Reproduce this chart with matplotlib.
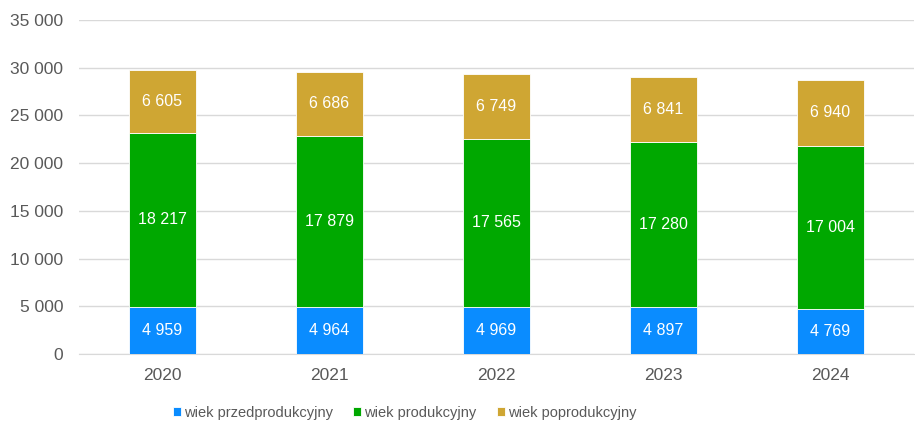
import matplotlib.pyplot as plt
import numpy as np

plt.rcParams['font.family'] = ['Liberation Sans', 'DejaVu Sans']

years = ['2020', '2021', '2022', '2023', '2024']
przed = [4959, 4964, 4969, 4897, 4769]
prod = [18217, 17879, 17565, 17280, 17004]
poprod = [6605, 6686, 6749, 6841, 6940]

series = [
    ('wiek przedprodukcyjny', przed, '#0A8CFF'),
    ('wiek produkcyjny', prod, '#00A800'),
    ('wiek poprodukcyjny', poprod, '#CFA633'),
]


def fmt(v):
    return f'{v:,}'.replace(',', ' ')


fig = plt.figure(figsize=(9.15, 4.21), dpi=100)
ax = fig.add_axes([0.086, 0.159, 0.913, 0.794])

x = np.arange(len(years))
bottom = np.zeros(len(years))
for name, vals, color in series:
    vals = np.array(vals)
    ax.bar(x, vals, 0.4, bottom=bottom, color=color, label=name,
           edgecolor='white', linewidth=0.6, zorder=3)
    for xi, b, v in zip(x, bottom, vals):
        ax.text(xi, b + v / 2, fmt(v), ha='center', va='center',
                color='white', fontsize=11.5, zorder=4)
    bottom += vals

ax.set_xlim(-0.5, len(years) - 0.5)
ax.set_ylim(0, 35000)
ax.set_yticks(range(0, 35001, 5000))
ax.set_yticklabels([fmt(v) for v in range(0, 35001, 5000)])
ax.set_xticks(x)
ax.set_xticklabels(years)
ax.tick_params(axis='y', length=0, labelsize=12.5, colors='#595959', pad=11)
ax.tick_params(axis='x', length=0, labelsize=12.5, colors='#595959', pad=10)
ax.grid(axis='y', color='#D9D9D9', linewidth=1, zorder=0)
for s in ['top', 'right', 'left']:
    ax.spines[s].set_visible(False)
ax.spines['bottom'].set_color('#D9D9D9')

ax.legend(loc='center', bbox_to_anchor=(0.39, -0.176), ncol=3,
          frameon=False, fontsize=10.5, handlelength=0.55, handleheight=0.55,
          handletextpad=0.2, columnspacing=1.4, labelcolor='#595959',
          borderpad=0.1)

fig.savefig('out.png', dpi=100)
